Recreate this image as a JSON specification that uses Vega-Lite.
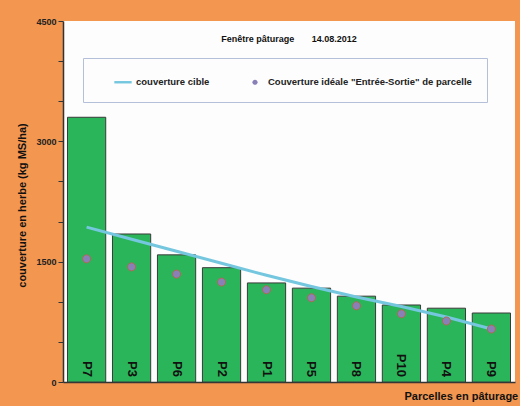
{
  "$schema": "https://vega.github.io/schema/vega-lite/v6.json",
  "width": 452,
  "height": 361,
  "autosize": "none",
  "padding": {"left": 63, "top": 21, "right": 5, "bottom": 24},
  "background": "#F29650",
  "config": {
    "view": {"fill": "#fdfdfd", "stroke": null},
    "font": "Liberation Sans"
  },
  "title": {
    "text": "Fenêtre pâturage\u00a0\u00a0\u00a0\u00a0\u00a0\u00a0\u00a014.08.2012",
    "fontSize": 9,
    "fontWeight": "bold",
    "color": "#111",
    "offset": -27,
    "anchor": "middle"
  },
  "data": {
    "values": [
      {"parcelle": "P7", "herbe": 3300, "cible": 1930, "ideale": 1535},
      {"parcelle": "P3", "herbe": 1845, "cible": 1780, "ideale": 1435},
      {"parcelle": "P6", "herbe": 1585, "cible": 1630, "ideale": 1345},
      {"parcelle": "P2", "herbe": 1425, "cible": 1480, "ideale": 1245},
      {"parcelle": "P1", "herbe": 1235, "cible": 1330, "ideale": 1150},
      {"parcelle": "P5", "herbe": 1170, "cible": 1190, "ideale": 1050},
      {"parcelle": "P8", "herbe": 1070, "cible": 1060, "ideale": 950},
      {"parcelle": "P10", "herbe": 960, "cible": 940, "ideale": 850},
      {"parcelle": "P4", "herbe": 920, "cible": 810, "ideale": 760},
      {"parcelle": "P9", "herbe": 860, "cible": 660, "ideale": 660}
    ]
  },
  "encoding": {
    "x": {
      "field": "parcelle",
      "type": "nominal",
      "sort": null,
      "scale": {"paddingInner": 0.15, "paddingOuter": 0.1},
      "axis": {
        "title": "Parcelles en pâturage",
        "titleFontSize": 11,
        "titleFontWeight": "bold",
        "titleColor": "#111",
        "titleAnchor": "start",
        "titleAlign": "left",
        "titleX": 341,
        "titlePadding": 8,
        "labels": false,
        "ticks": false,
        "domainColor": "#333",
        "domainWidth": 1.5
      }
    }
  },
  "layer": [
    {
      "mark": {"type": "bar", "color": "#2bb55a", "stroke": "#3a3a3a", "strokeWidth": 1},
      "encoding": {
        "y": {
          "field": "herbe",
          "type": "quantitative",
          "scale": {"domain": [0, 4500], "nice": false},
          "axis": {
            "title": "couverture en herbe  (kg MS/ha)",
            "titleFontSize": 11,
            "titleFontWeight": "bold",
            "titleColor": "#111",
            "titleY": 184,
            "titleX": -41,
            "titleAlign": "center",
            "titleBaseline": "middle",
            "values": [0, 500, 1000, 1500, 2000, 2500, 3000, 3500, 4000, 4500],
            "format": "d",
            "labelExpr": "datum.value % 1500 === 0 ? datum.label : ''",
            "labelFontSize": 9,
            "labelFontWeight": "bold",
            "labelColor": "#222",
            "tickColor": "#333",
            "tickSize": 5,
            "domainColor": "#333",
            "domainWidth": 1.5,
            "grid": false
          }
        }
      }
    },
    {
      "mark": {"type": "text", "angle": 90, "align": "right", "baseline": "middle", "dx": -5, "fontSize": 13, "fontWeight": "bold", "color": "#111"},
      "encoding": {
        "y": {"datum": 0},
        "text": {"field": "parcelle"}
      }
    },
    {
      "mark": {"type": "line", "strokeWidth": 3},
      "encoding": {
        "y": {"field": "cible", "type": "quantitative"},
        "color": {"datum": "couverture cible"}
      }
    },
    {
      "mark": {"type": "point", "filled": true, "size": 720, "opacity": 1, "stroke": "#b06a50", "strokeWidth": 1},
      "encoding": {
        "y": {"field": "ideale", "type": "quantitative"},
        "color": {
          "datum": "Couverture idéale \"Entrée-Sortie\" de parcelle",
          "scale": {
            "domain": ["couverture cible", "Couverture idéale \"Entrée-Sortie\" de parcelle"],
            "range": ["#74c7df", "#8a80b8"]
          },
          "legend": {
            "title": null,
            "orient": "none",
            "legendX": 20,
            "legendY": 37,
            "direction": "horizontal",
            "strokeColor": "#b4c0d8",
            "fillColor": "#fdfdfd",
            "padding": 15,
            "symbolOffset": 16,
            "symbolSize": 300,
            "symbolStrokeWidth": 0,
            "columnPadding": 20,
            "labelFontSize": 9.5,
            "labelFontWeight": "bold",
            "labelColor": "#222",
            "labelLimit": 300
          }
        },
        "shape": {
          "datum": "Couverture idéale \"Entrée-Sortie\" de parcelle",
          "scale": {
            "domain": ["couverture cible", "Couverture idéale \"Entrée-Sortie\" de parcelle"],
            "range": ["M-1,-0.14H1V0.14H-1Z", "M0.3,0A0.3,0.3 0 1,1 -0.3,0A0.3,0.3 0 1,1 0.3,0Z"]
          }
        }
      }
    }
  ],
  "resolve": {"scale": {"y": "shared"}}
}
